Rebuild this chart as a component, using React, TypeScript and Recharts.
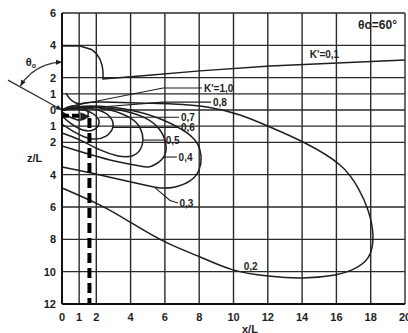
import React from "react";
import { LineChart, Line, XAxis, YAxis, CartesianGrid, ReferenceLine, ReferenceDot } from "recharts";

type Pt = { x: number; z: number };

const X_TICKS = [0, 1, 2, 4, 6, 8, 10, 12, 14, 16, 18, 20];
const Z_TICKS = [6, 4, 2, 1, 0, -1, -2, -4, -6, -8, -10, -12];

// contour lines K' (x/L, z/L)
const K01: Pt[] = [
  { x: 0, z: 3.96 }, { x: 1.05, z: 3.96 }, { x: 1.72, z: 3.74 }, { x: 2.0, z: 3.49 },
  { x: 2.21, z: 3.15 }, { x: 2.34, z: 2.76 }, { x: 2.39, z: 2.35 }, { x: 2.39, z: 1.92 },
  { x: 4.55, z: 2.1 }, { x: 8.05, z: 2.42 }, { x: 12.13, z: 2.72 }, { x: 20, z: 3.09 },
];
const K02: Pt[] = [
  { x: 0, z: 0 }, { x: 1.05, z: 0.37 }, { x: 2.22, z: 0.49 }, { x: 4.55, z: 0.43 },
  { x: 6.47, z: 0.37 }, { x: 8.45, z: 0.19 }, { x: 10.38, z: -0.31 }, { x: 12.13, z: -1.05 },
  { x: 14.17, z: -2.04 }, { x: 16.21, z: -3.4 }, { x: 17.26, z: -4.82 }, { x: 17.84, z: -6.18 },
  { x: 18.13, z: -7.73 }, { x: 17.84, z: -9.15 }, { x: 16.91, z: -9.89 }, { x: 15.92, z: -10.2 },
  { x: 14.05, z: -10.39 }, { x: 12.01, z: -10.27 }, { x: 9.97, z: -9.89 }, { x: 8.05, z: -9.09 },
  { x: 6.01, z: -8.16 }, { x: 3.97, z: -6.93 }, { x: 2.22, z: -5.88 }, { x: 0, z: -4.82 },
];
const K03: Pt[] = [
  { x: 0, z: 0 }, { x: 1.63, z: 0.25 }, { x: 3.97, z: 0 }, { x: 5.89, z: -0.62 },
  { x: 7.29, z: -1.42 }, { x: 7.93, z: -2.16 }, { x: 8.11, z: -2.91 }, { x: 7.99, z: -3.71 },
  { x: 7.46, z: -4.39 }, { x: 6.59, z: -4.76 }, { x: 5.71, z: -4.82 }, { x: 4.55, z: -4.58 },
  { x: 2.22, z: -4.02 }, { x: 0, z: -3.53 },
];
const K04: Pt[] = [
  { x: 0, z: 0 }, { x: 1.63, z: 0.19 }, { x: 3.38, z: 0 }, { x: 4.84, z: -0.49 },
  { x: 5.71, z: -1.24 }, { x: 6.06, z: -2.16 }, { x: 5.89, z: -2.97 }, { x: 5.25, z: -3.46 },
  { x: 4.55, z: -3.46 }, { x: 2.8, z: -3.09 }, { x: 1.34, z: -2.66 }, { x: 0, z: -2.23 },
];
const K05: Pt[] = [
  { x: 0, z: 0 }, { x: 1.34, z: 0.19 }, { x: 2.8, z: 0 }, { x: 3.97, z: -0.49 },
  { x: 4.55, z: -1.11 }, { x: 4.72, z: -1.86 }, { x: 4.55, z: -2.47 }, { x: 4.08, z: -2.84 },
  { x: 3.27, z: -2.84 }, { x: 2.22, z: -2.47 }, { x: 1.05, z: -1.86 }, { x: 0, z: -1.42 },
];
const K06: Pt[] = [
  { x: 0, z: 0 }, { x: 1.05, z: 0.12 }, { x: 2.1, z: 0 }, { x: 2.8, z: -0.43 },
  { x: 2.97, z: -1.05 }, { x: 2.57, z: -1.61 }, { x: 1.75, z: -1.79 }, { x: 0.82, z: -1.42 },
  { x: 0, z: -0.87 },
];
const K07: Pt[] = [
  { x: 0, z: 0 }, { x: 0.93, z: 0.06 }, { x: 1.75, z: -0.19 }, { x: 2.16, z: -0.68 },
  { x: 1.92, z: -1.18 }, { x: 1.22, z: -1.24 }, { x: 0.47, z: -0.8 }, { x: 0, z: -0.37 },
];
const K08: Pt[] = [
  { x: 0, z: 0 }, { x: 0.58, z: 0.25 }, { x: 1.28, z: 0.12 }, { x: 1.52, z: -0.31 },
  { x: 1.05, z: -0.62 }, { x: 0.35, z: -0.37 }, { x: 0, z: -0.12 },
];
const K10: Pt[] = [
  { x: 0.23, z: 1.05 }, { x: 0.47, z: 0.68 }, { x: 0.82, z: 0.43 }, { x: 1.17, z: 0.37 },
];
const CONTOURS = [K01, K02, K03, K04, K05, K06, K07, K08, K10];

// leader lines from contours to their labels
const LEADERS: Pt[][] = [
  [{ x: 1.17, z: 0.37 }, { x: 5.89, z: 1.36 }, { x: 8.16, z: 1.36 }],
  [{ x: 1.52, z: 0.12 }, { x: 5.89, z: 0.49 }, { x: 8.69, z: 0.49 }],
  [{ x: 2.16, z: -0.45 }, { x: 6.82, z: -0.45 }],
  [{ x: 2.97, z: -1.08 }, { x: 6.82, z: -1.08 }],
  [{ x: 4.72, z: -1.86 }, { x: 5.95, z: -1.86 }],
  [{ x: 5.95, z: -2.91 }, { x: 6.7, z: -2.91 }],
  [{ x: 5.42, z: -4.8 }, { x: 6.3, z: -5.6 }, { x: 6.76, z: -5.75 }],
];

const LABELS = [
  { text: "K'=1,0", x: 8.28, z: 1.36 },
  { text: "0,8", x: 8.8, z: 0.45 },
  { text: "0,7", x: 6.94, z: -0.45 },
  { text: "0,6", x: 6.94, z: -1.08 },
  { text: "0,5", x: 6.05, z: -1.86 },
  { text: "0,4", x: 6.8, z: -2.91 },
  { text: "0,3", x: 6.85, z: -5.75 },
  { text: "0,2", x: 10.6, z: -9.7 },
  { text: "K'=0,1", x: 14.45, z: 3.42 },
];

// discharge angle sketch (outside the plot, left of z axis)
const JET_LINE: Pt[] = [{ x: -3.15, z: 1.85 }, { x: 0, z: 0 }];
const ANGLE_ARC: Pt[] = [
  { x: 0, z: 2.96 }, { x: -0.486, z: 2.915 }, { x: -0.958, z: 2.781 }, { x: -1.4, z: 2.563 },
  { x: -1.8, z: 2.267 }, { x: -2.145, z: 1.903 }, { x: -2.425, z: 1.48 },
];
const TRAJ_H: Pt[] = [{ x: 0, z: -0.35 }, { x: 1.3, z: -0.35 }];
const TRAJ_V: Pt[] = [{ x: 1.6, z: -0.5 }, { x: 1.6, z: -12 }];

const FONT = "'Liberation Sans', Arial, sans-serif";
const INK = "#1e1e1e";

const arrow = (angle: number, size = 6) => (p: any) => (
  <polygon
    points={`0,0 ${-size},${-size * 0.42} ${-size},${size * 0.42}`}
    transform={`translate(${p.cx},${p.cy}) rotate(${angle})`}
    fill={INK}
  />
);

const textAt = (node: React.ReactNode, size = 10, anchor = "start") => (p: any) => (
  <text x={p.cx} y={p.cy} dy="0.36em" fontFamily={FONT} fontSize={size} fontWeight="bold" fill={INK} textAnchor={anchor}>
    {node}
  </text>
);

export default function App() {
  return (
    <div style={{ width: 408, height: 333, background: "#fff" }}>
      <style>{`body{margin:0}`}</style>
      <LineChart width={408} height={333} margin={{ top: 13, right: 3, bottom: 0, left: 0 }}>
        <CartesianGrid stroke="#2a2a2a" strokeWidth={1.4} />
        <XAxis
          dataKey="x"
          type="number"
          domain={[0, 20]}
          ticks={X_TICKS}
          interval={0}
          height={29}
          tickSize={0}
          tickMargin={9}
          axisLine={{ stroke: "#111", strokeWidth: 2 }}
          tick={{ fontFamily: FONT, fontSize: 11, fontWeight: "bold", fill: INK }}
          label={{
            content: (props: any) => {
              const vb = props.viewBox || { x: 62, y: 304, width: 343, height: 29 };
              return (
                <text x={vb.x + vb.width * 0.548} y={vb.y + vb.height} textAnchor="middle" fontFamily={FONT} fontSize={11} fontWeight="bold" fill={INK}>
                  x/L
                </text>
              );
            },
          }}
        />
        <YAxis
          type="number"
          domain={[-12, 6]}
          ticks={Z_TICKS}
          interval={0}
          width={62}
          tickSize={0}
          tickMargin={6}
          axisLine={{ stroke: "#111", strokeWidth: 2 }}
          tickFormatter={(v: number) => String(Math.abs(v))}
          tick={{ fontFamily: FONT, fontSize: 11, fontWeight: "bold", fill: INK }}
          label={{ value: "z/L", position: "insideLeft", offset: 27, fontFamily: FONT, fontSize: 11, fontWeight: "bold", fill: INK }}
        />

        {CONTOURS.map((pts, i) => (
          <Line
            key={`k${i}`}
            data={pts}
            dataKey="z"
            type={i === 0 ? "linear" : "natural"}
            stroke={INK}
            strokeWidth={1.5}
            dot={false}
            activeDot={false}
            isAnimationActive={false}
          />
        ))}
        {LEADERS.map((pts, i) => (
          <Line
            key={`l${i}`}
            data={pts}
            dataKey="z"
            type="linear"
            stroke={INK}
            strokeWidth={1.1}
            dot={false}
            activeDot={false}
            isAnimationActive={false}
          />
        ))}

        {/* jet trajectory arrow */}
        <ReferenceLine
          segment={TRAJ_H.map((p) => ({ x: p.x, y: p.z }))}
          stroke="#000"
          strokeWidth={4}
          strokeDasharray="7 3"
          ifOverflow="visible"
        />
        <ReferenceLine
          segment={TRAJ_V.map((p) => ({ x: p.x, y: p.z }))}
          stroke="#000"
          strokeWidth={4}
          strokeDasharray="10 5"
          ifOverflow="visible"
        />
        <ReferenceDot x={1.65} y={-0.4} r={0} ifOverflow="visible" shape={arrow(0, 10)} />

        {/* discharge angle */}
        <ReferenceLine
          segment={JET_LINE.map((p) => ({ x: p.x, y: p.z }))}
          stroke="#333"
          strokeWidth={1.3}
          ifOverflow="visible"
        />
        {ANGLE_ARC.slice(1).map((p, i) => (
          <ReferenceLine
            key={`a${i}`}
            segment={[{ x: ANGLE_ARC[i].x, y: ANGLE_ARC[i].z }, { x: p.x, y: p.z }]}
            stroke="#333"
            strokeWidth={1.3}
            ifOverflow="visible"
          />
        ))}
        <ReferenceDot x={0} y={0} r={0} ifOverflow="visible" shape={arrow(29, 6)} />
        <ReferenceDot x={0} y={2.96} r={0} ifOverflow="visible" shape={arrow(0, 6)} />
        <ReferenceDot x={-2.425} y={1.48} r={0} ifOverflow="visible" shape={arrow(120, 6)} />
        <ReferenceDot
          x={-1.81}
          y={2.97}
          r={0}
          ifOverflow="visible"
          shape={textAt(<>θ<tspan fontSize={7} dy="2">o</tspan></>, 11, "middle")}
        />

        {LABELS.map((l, i) => (
          <ReferenceDot key={`t${i}`} x={l.x} y={l.z} r={0} ifOverflow="visible" shape={textAt(l.text)} />
        ))}
        <ReferenceDot x={17.26} y={5.26} r={0} ifOverflow="visible" shape={textAt("θo=60°", 12)} />
      </LineChart>
    </div>
  );
}
